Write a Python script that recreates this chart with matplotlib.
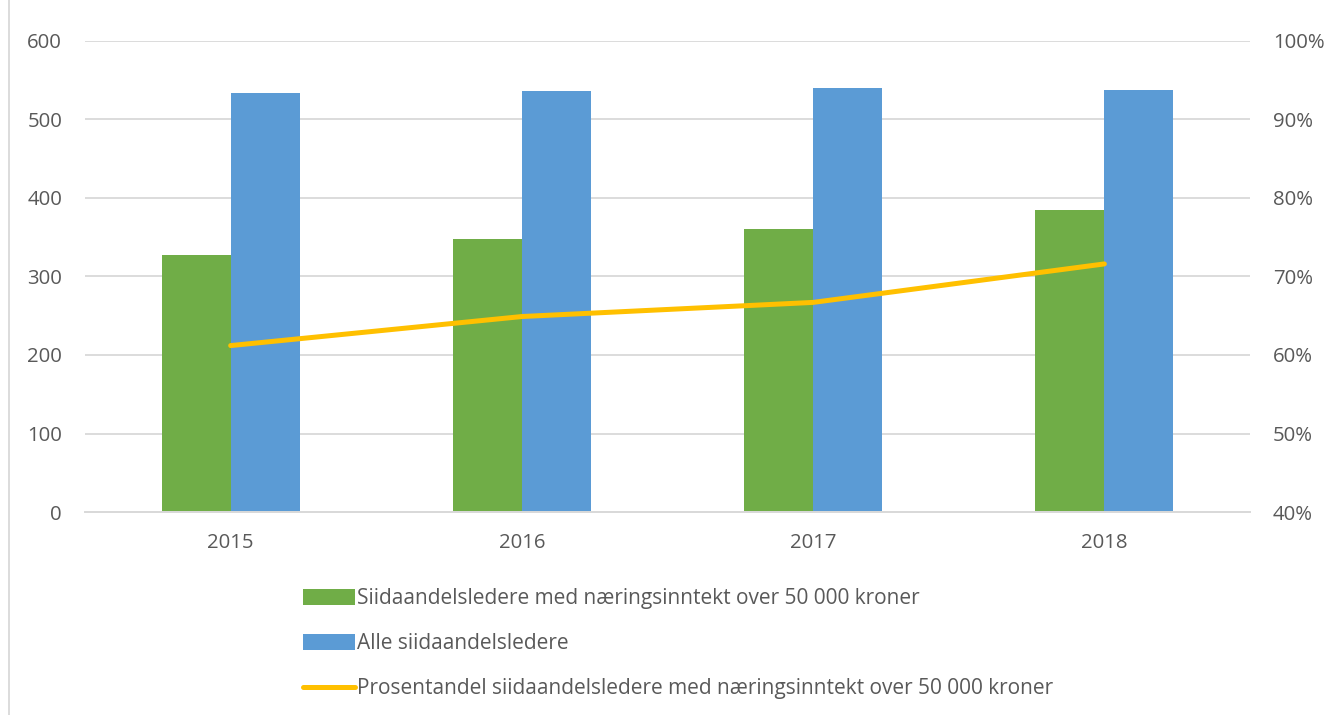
import numpy as np
import matplotlib.pyplot as plt
from matplotlib.ticker import PercentFormatter

years = ['2015', '2016', '2017', '2018']
med_inntekt = [327, 348, 360, 385]
alle = [534, 536, 540, 538]
andel = [61.2, 64.9, 66.7, 71.6]

lbl_green = 'Siidaandelsledere med næringsinntekt over 50 000 kroner'
lbl_blue = 'Alle siidaandelsledere'
lbl_line = 'Prosentandel siidaandelsledere med næringsinntekt over 50 000 kroner'

plt.rcParams['font.family'] = ['Open Sans', 'DejaVu Sans']
grey = '#595959'

fig = plt.figure(figsize=(13.35, 7.15), dpi=100)
ax = fig.add_axes([0.0637, 0.2839, 0.8726, 0.6588])
ax2 = ax.twinx()

x = np.arange(len(years))
w = 0.237
ax.bar(x - w / 2, med_inntekt, w, color='#70AD47', label=lbl_green, zorder=2)
ax.bar(x + w / 2, alle, w, color='#5B9BD5', label=lbl_blue, zorder=2)
ax2.plot(x, andel, color='#FFC000', lw=3.6, label=lbl_line, solid_capstyle='round')

ax.set_xlim(-0.5, 3.5)
ax.set_ylim(0, 600)
ax.set_yticks(range(0, 601, 100))
ax.set_xticks(x)
ax.set_xticklabels(years)
ax2.set_ylim(40, 100)
ax2.set_yticks(range(40, 101, 10))
ax2.yaxis.set_major_formatter(PercentFormatter(decimals=0))

ax.grid(axis='y', color='#D9D9D9', lw=1.3, zorder=0)
ax.set_axisbelow(True)
for a in (ax, ax2):
    for s in ['top', 'left', 'right']:
        a.spines[s].set_visible(False)
    a.spines['bottom'].set_color('#D9D9D9')
    a.spines['bottom'].set_linewidth(1.3)
    a.tick_params(length=0, labelsize=14.7, labelcolor=grey)
ax.tick_params(axis='y', pad=16.5)
ax2.tick_params(axis='y', pad=16.5)
ax.tick_params(axis='x', pad=15)

h1, l1 = ax.get_legend_handles_labels()
h2, l2 = ax2.get_legend_handles_labels()
leg = fig.legend(h1 + h2, l1 + l2, loc='upper left', bbox_to_anchor=(0.227, 0.177),
                 frameon=False, fontsize=15, labelspacing=1.15, handlelength=2.5,
                 handleheight=0.8, handletextpad=0.1, borderaxespad=0, borderpad=0)
for t in leg.get_texts():
    t.set_color(grey)

# chart frame on the left edge
fig.add_artist(plt.Line2D([0.0067, 0.0067], [0, 1], color='#D9D9D9', lw=1.3, transform=fig.transFigure))

fig.savefig('out.png', dpi=100)
